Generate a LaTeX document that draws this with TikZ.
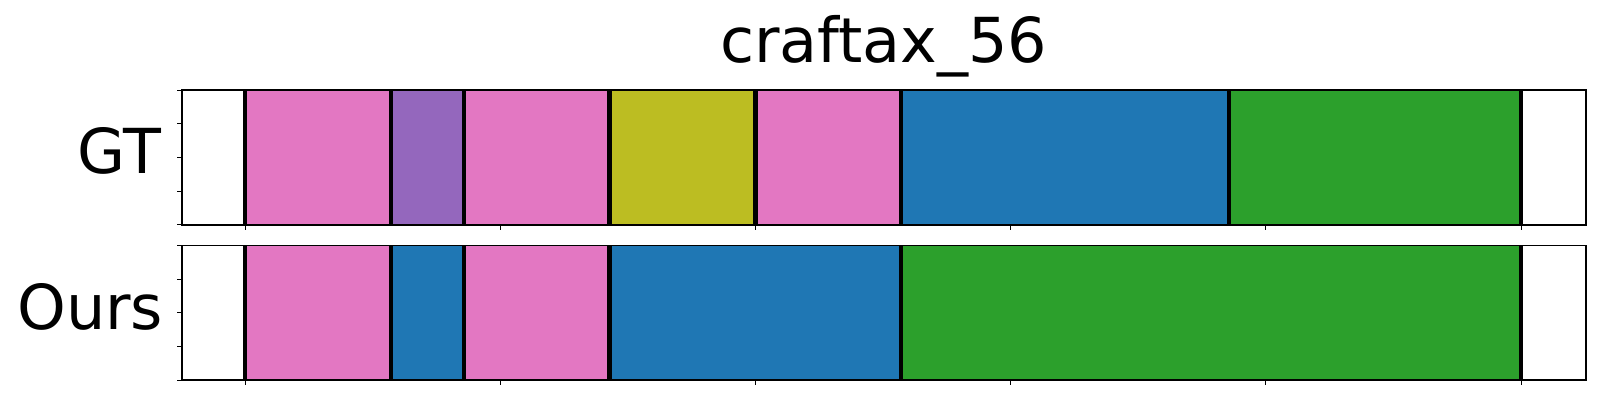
\documentclass[tikz,border=0pt]{standalone}
\usepackage{fontspec}
\setmainfont{DejaVu Sans}
\definecolor{tpink}{HTML}{E377C2}
\definecolor{tpurple}{HTML}{9467BD}
\definecolor{tolive}{HTML}{BCBD22}
\definecolor{tblue}{HTML}{1F77B4}
\definecolor{tgreen}{HTML}{2CA02C}
\tikzset{
  segfill/.style={fill=#1},
  bound/.style={draw=black, line width=2.1pt},
  axframe/.style={draw=black, line width=0.8pt},
  tickmark/.style={draw=black, line width=0.5pt},
  lab/.style={font=\fontsize{31}{37}\selectfont, inner sep=0pt},
}
\newcommand\Xd[1]{245+#1*36.4571}
\newcommand\segrow[3]{%
  \foreach \a/\b/\c in {#3}{\fill[segfill=\c] ({\Xd{\a}},#1) rectangle ({\Xd{\b}},#2);}%
}
\newcommand\boundrow[3]{%
  \foreach \d in {#3}{\draw[bound] ({\Xd{\d}},#1) -- ({\Xd{\d}},#2);}%
}
\newcommand\axrow[2]{%
  \draw[axframe] (181.7,#1) rectangle (1585.7,#2);
  \foreach \i in {0,...,4}{\draw[tickmark] (181.7,{#1+\i*(#2-#1)/4}) -- ++(-5,0);}%
  \foreach \i in {0,...,5}{\draw[tickmark] ({\Xd{\i*7}},#2) -- ++(0,5);}%
}
\begin{document}
\begin{tikzpicture}[x=0.5pt,y=-0.5pt]
\useasboundingbox (0,0) rectangle (1600,400);
% GT row
\segrow{90.3}{225}{0/4/tpink,4/6/tpurple,6/10/tpink,10/14/tolive,14/18/tpink,18/27/tblue,27/35/tgreen}
\boundrow{90.3}{225}{0,4,6,10,14,18,27,35}
\axrow{90.3}{225}
% Ours row
\segrow{245.7}{380.3}{0/4/tpink,4/6/tblue,6/10/tpink,10/18/tblue,18/35/tgreen}
\boundrow{245.7}{380.3}{0,4,6,10,18,35}
\axrow{245.7}{380.3}
% labels
\node[lab, anchor=base] (title) at (883.7,62.3) {craftax\_56};
\node[lab, anchor=base east] (gtlab) at (162,174) {GT};
\node[lab, anchor=base east] (ourslab) at (163.5,329.4) {Ours};
\end{tikzpicture}
\end{document}
